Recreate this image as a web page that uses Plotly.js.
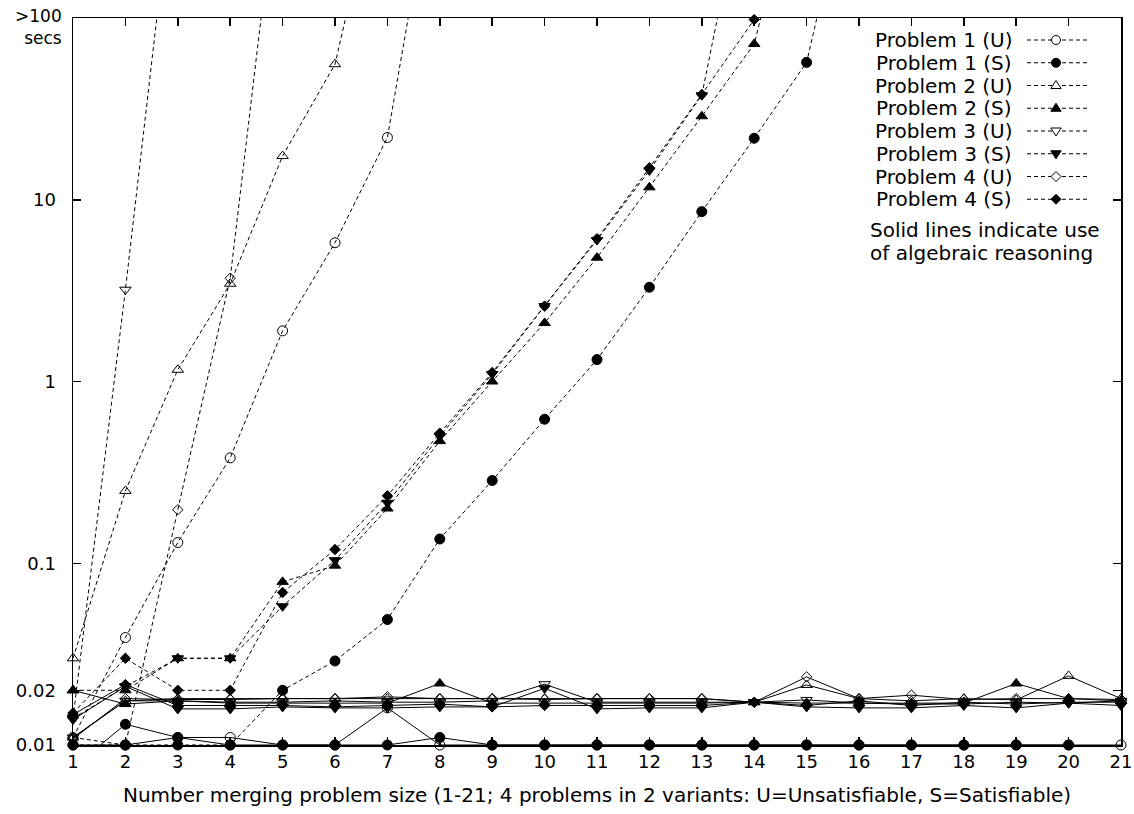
<!DOCTYPE html>
<html>
<head>
<meta charset="utf-8">
<script src="https://cdn.plot.ly/plotly-3.0.1.min.js"></script>
<style>html,body{margin:0;padding:0;background:#fff;}#chart{width:1134px;height:814px;}</style>
</head>
<body>
<div id="chart"></div>
<script>
// Problem sizes (x axis)
const sizes = [1,2,3,4,5,6,7,8,9,10,11,12,13,14,15,16,17,18,19,20,21];

// Dashed series: without algebraic reasoning (values in seconds; 1000 = off the top, >100 s)
const p1uPlain = [0.011, 0.039, 0.13, 0.38, 1.9, 5.8, 22, 1000];
const p1sPlain = [0.01, 0.01, 0.01, 0.01, 0.02, 0.029, 0.049, 0.136, 0.285, 0.62, 1.32, 3.3, 8.6, 21.8, 57, 1000];
const p2uPlain = [0.03, 0.25, 1.16, 3.45, 17.4, 55.7, 1000];
const p2sPlain = [0.02, 0.02, 0.03, 0.03, 0.079, 0.097, 0.2, 0.47, 1.0, 2.1, 4.8, 11.7, 28.8, 72, 1000];
const p3uPlain = [0.014, 3.2, 1000];
const p3sPlain = [0.014, 0.021, 0.03, 0.03, 0.058, 0.104, 0.215, 0.5, 1.1, 2.6, 6.0, 14.5, 37.6, 1000];
const p4uPlain = [0.011, 0.01, 0.197, 3.7, 1000];
const p4sPlain = [0.015, 0.03, 0.02, 0.02, 0.069, 0.119, 0.235, 0.52, 1.12, 2.6, 6.1, 15, 38, 98, 1000];

// Solid series: with algebraic reasoning
const p1uAlg = [0.01, 0.01, 0.011, 0.011, 0.01, 0.01, 0.016, 0.01, 0.01, 0.01, 0.01, 0.01, 0.01, 0.01, 0.01, 0.01, 0.01, 0.01, 0.01, 0.01, 0.01];
const p1sAlg = [0.0075, 0.013, 0.011, 0.01, 0.01, 0.01, 0.01, 0.011, 0.01, 0.01, 0.01, 0.01, 0.01, 0.01, 0.01, 0.01, 0.01, 0.01, 0.01, 0.01];
const p2uAlg = [0.011, 0.0175, 0.018, 0.018, 0.018, 0.018, 0.018, 0.018, 0.018, 0.018, 0.018, 0.018, 0.018, 0.0172, 0.0214, 0.018, 0.0175, 0.018, 0.0177, 0.024, 0.018];
const p2sAlg = [0.02, 0.0168, 0.0175, 0.017, 0.017, 0.017, 0.017, 0.0218, 0.017, 0.017, 0.017, 0.017, 0.017, 0.0172, 0.017, 0.017, 0.017, 0.017, 0.0218, 0.018, 0.0175];
const p3uAlg = [0.011, 0.0175, 0.0175, 0.0172, 0.0172, 0.0175, 0.0172, 0.0172, 0.0175, 0.0216, 0.0172, 0.0172, 0.0172, 0.0172, 0.0177, 0.017, 0.0168, 0.0168, 0.0172, 0.017, 0.0175];
const p3sAlg = [0.0138, 0.021, 0.0158, 0.0158, 0.0162, 0.016, 0.016, 0.0162, 0.0162, 0.0205, 0.0158, 0.016, 0.016, 0.0172, 0.0162, 0.016, 0.016, 0.0165, 0.016, 0.017, 0.0165];
const p4uAlg = [0.0108, 0.018, 0.0178, 0.0178, 0.018, 0.018, 0.0184, 0.018, 0.018, 0.0178, 0.018, 0.018, 0.018, 0.0172, 0.0237, 0.018, 0.0188, 0.0178, 0.018, 0.018, 0.0178];
const p4sAlg = [0.0147, 0.0215, 0.0165, 0.0165, 0.0165, 0.0162, 0.0165, 0.0168, 0.0162, 0.0165, 0.0165, 0.0165, 0.0165, 0.0172, 0.0165, 0.0175, 0.0165, 0.0172, 0.0168, 0.0172, 0.0172];

const seriesNames = ['Problem 1 (U)','Problem 1 (S)','Problem 2 (U)','Problem 2 (S)','Problem 3 (U)','Problem 3 (S)','Problem 4 (U)','Problem 4 (S)'];
const symbols = ['circle-open','circle','triangle-up-open','triangle-up','triangle-down-open','triangle-down','diamond-open','diamond'];
const plainData = [p1uPlain,p1sPlain,p2uPlain,p2sPlain,p3uPlain,p3sPlain,p4uPlain,p4sPlain];
const algData = [p1uAlg,p1sAlg,p2uAlg,p2sAlg,p3uAlg,p3sAlg,p4uAlg,p4sAlg];

// y-axis tick labels
const yTickVals = [0.01, 0.02, 0.1, 1, 10];
const yTickText = ['0.01','0.02','0.1','1','10'];
const topLabel = '>100<br>secs';
const noteLines = ['Solid lines indicate use', 'of algebraic reasoning'];
const xTitle = 'Number merging problem size (1-21; 4 problems in 2 variants: U=Unsatisfiable, S=Satisfiable)';

const FONT = 'DejaVu Sans, Verdana, sans-serif';
const symSize = s => s.indexOf('diamond') === 0 ? 8 : 10;

const traces = [];
algData.forEach((ys, i) => {
  traces.push({
    x: sizes.slice(0, ys.length), y: ys, type: 'scatter', mode: 'lines+markers',
    name: seriesNames[i] + ' (algebraic)', showlegend: false, cliponaxis: false,
    line: {color: '#000', width: 1},
    marker: {symbol: symbols[i], size: symSize(symbols[i]), color: '#000', line: {color: '#000', width: 1}}
  });
});
plainData.forEach((ys, i) => {
  traces.push({
    x: sizes.slice(0, ys.length), y: ys, type: 'scatter', mode: 'lines+markers',
    name: seriesNames[i], showlegend: false, cliponaxis: false,
    line: {color: '#000', width: 1, dash: '4px,3px'},
    marker: {symbol: symbols[i], size: symSize(symbols[i]), color: '#000', line: {color: '#000', width: 1}}
  });
});

// ---- layout geometry (pixels) ----
const W = 1134, H = 814, ML = 73, MR = 13, MT = 18, MB = 69;
const PW = W - ML - MR, PH = H - MT - MB;
const px2x = p => (p - ML) / PW;
const py2y = p => (H - MB - p) / PH;

// Legend key (gnuplot style: text, then line sample with marker)
const shapes = [], annotations = [];
const legTextRight = 1014, legLineX0 = 1027, legLineX1 = 1087, legMarkX = 1056;
seriesNames.forEach((name, i) => {
  const yp = 40 + 22.75 * i;
  annotations.push({xref: 'paper', yref: 'paper', x: px2x(legTextRight), y: py2y(yp), xanchor: 'right', yanchor: 'middle',
    showarrow: false, text: name, font: {family: FONT, size: 20, color: '#000'}});
  shapes.push({type: 'line', xref: 'paper', yref: 'paper', x0: px2x(legLineX0), x1: px2x(legLineX1), y0: py2y(yp), y1: py2y(yp),
    line: {color: '#000', width: 1, dash: '4px,3px'}});
  const sym = symbols[i];
  const filled = sym.indexOf('open') < 0;
  const base = {xref: 'paper', yref: 'paper', xsizemode: 'pixel', ysizemode: 'pixel',
    xanchor: px2x(legMarkX), yanchor: py2y(yp), line: {color: '#000', width: 1},
    fillcolor: filled ? '#000' : '#fff'};
  if (sym.indexOf('circle') === 0) {
    shapes.push(Object.assign({type: 'circle', x0: -4.5, x1: 4.5, y0: -4.5, y1: 4.5}, base));
  } else if (sym.indexOf('triangle-up') === 0) {
    shapes.push(Object.assign({type: 'path', path: 'M -5.2,-3 L 5.2,-3 L 0,5 Z'}, base));
  } else if (sym.indexOf('triangle-down') === 0) {
    shapes.push(Object.assign({type: 'path', path: 'M -5.2,3 L 5.2,3 L 0,-5 Z'}, base));
  } else {
    shapes.push(Object.assign({type: 'path', path: 'M -5,0 L 0,5 L 5,0 L 0,-5 Z'}, base));
  }
});

// Note text
noteLines.forEach((t, i) => {
  annotations.push({xref: 'paper', yref: 'paper', x: px2x(868), y: py2y(230 + 23 * i), xanchor: 'left', yanchor: 'middle',
    showarrow: false, text: t, font: {family: FONT, size: 20, color: '#000'}});
});
// Top-of-axis label
annotations.push({xref: 'paper', yref: 'paper', x: px2x(64), y: py2y(27), xanchor: 'right', yanchor: 'middle',
  align: 'right', showarrow: false, text: topLabel, font: {family: FONT, size: 17, color: '#000'}});

const layout = {
  width: W, height: H,
  margin: {l: ML, r: MR, t: MT, b: MB},
  paper_bgcolor: '#fff', plot_bgcolor: '#fff',
  font: {family: FONT, size: 18, color: '#000'},
  showlegend: false,
  xaxis: {
    range: [1, 21], tickmode: 'array', tickvals: sizes, ticktext: sizes.map(String),
    ticks: 'inside', ticklen: 8, tickwidth: 1.5, tickcolor: '#000',
    showline: true, linecolor: '#000', linewidth: 1.5, mirror: 'ticks',
    showgrid: false, zeroline: false,
    tickfont: {family: FONT, size: 18, color: '#000'},
    title: {text: xTitle, font: {family: FONT, size: 20, color: '#000'}, standoff: 17}
  },
  yaxis: {
    type: 'log', range: [-2, 2], tickmode: 'array', tickvals: yTickVals, ticktext: yTickText,
    ticks: 'inside', ticklen: 8, tickwidth: 1.5, tickcolor: '#000',
    showline: true, linecolor: '#000', linewidth: 1.5, mirror: 'ticks',
    showgrid: false, zeroline: false, ticklabelstandoff: 12,
    tickfont: {family: FONT, size: 18, color: '#000'}
  },
  shapes: shapes,
  annotations: annotations
};

Plotly.newPlot('chart', traces, layout, {staticPlot: true, displayModeBar: false});
</script>
</body>
</html>
